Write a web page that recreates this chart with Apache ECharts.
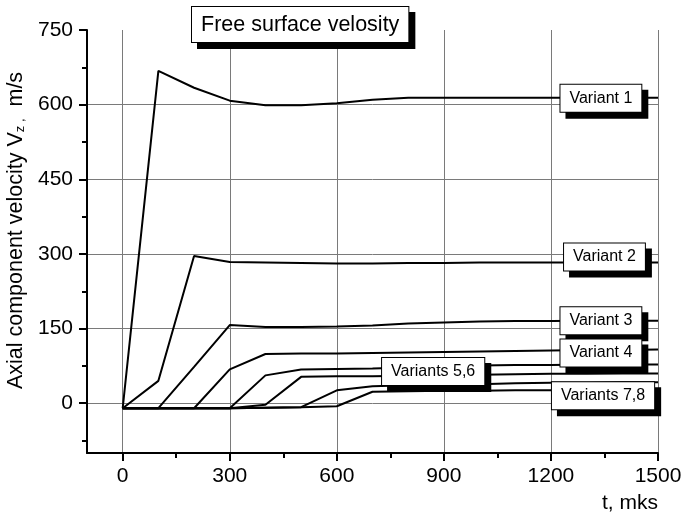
<!DOCTYPE html>
<html>
<head>
<meta charset="utf-8">
<script src="https://cdn.jsdelivr.net/npm/echarts@6/dist/echarts.min.js"></script>
<style>
  html, body { margin: 0; padding: 0; background: #fff; }
  #chart { width: 682px; height: 515px; }
</style>
</head>
<body>
<div id="chart"></div>
<script>
// time, mks
const times = [0, 100, 200, 300, 400, 500, 600, 700, 800, 900, 1000, 1100, 1200, 1300, 1400, 1500];
// axial velocity Vz, m/s
const variant1 = [-10, 668, 634, 608, 599, 599, 603, 610, 614, 614, 614, 614, 614, 614, 614, 614];
const variant2 = [-10, 45, 296, 284, 283, 282, 281, 281, 282, 282, 283, 283, 283, 283, 283, 283];
const variant3 = [-10, -10, 73, 157, 153, 153, 154, 156, 160, 162, 164, 165, 165, 166, 166, 166];
const variant4 = [-10, -10, -10, 68, 99, 100, 100, 101, 102, 103, 104, 105, 106, 107, 107, 108];
const variant5 = [-10, -10, -10, -10, 56, 68, 69, 70, 72, 74, 76, 77, 77, 78, 78, 78];
const variant6 = [-10, -10, -10, -10, -3, 53, 54, 54, 55, 56, 57, 58, 59, 59, 60, 60];
const variant7 = [-10, -10, -10, -10, -9, -8, 26, 34, 36, 37, 38, 40, 41, 41, 42, 42];
const variant8 = [-10, -10, -10, -10, -9, -8, -6, 23, 24, 25, 25, 26, 26, 26, 27, 27];
const xTicks = [0, 300, 600, 900, 1200, 1500];
const yTicks = [0, 150, 300, 450, 600, 750];
const labelNames = ['Variant 1', 'Variant 2', 'Variant 3', 'Variant 4', 'Variants 5,6', 'Variants 7,8'];

const FONT = '"Liberation Sans", Arial, sans-serif';
const allVariants = [variant1, variant2, variant3, variant4, variant5, variant6, variant7, variant8];

// where each tag box sits, in data units
const tagAt = { 0: [1340, 613], 1: [1350, 294], 2: [1340, 166], 3: [1340, 101], 4: [870, 64], 6: [1346, 15] };
const tagText = { 0: labelNames[0], 1: labelNames[1], 2: labelNames[2], 3: labelNames[3], 4: labelNames[4], 6: labelNames[5] };

const boxLabel = {
  show: true,
  position: 'inside',
  color: '#000',
  fontFamily: FONT,
  fontSize: 16,
  backgroundColor: '#fff',
  borderColor: '#000',
  borderWidth: 1,
  padding: [6, 9, 5, 9],
  shadowColor: '#000',
  shadowBlur: 0,
  shadowOffsetX: 6,
  shadowOffsetY: 6
};

const series = allVariants.map((vals, i) => {
  const s = {
    type: 'line',
    data: times.map((t, j) => [t, vals[j]]),
    symbol: 'none',
    lineStyle: { color: '#000', width: 2 },
    z: 3
  };
  if (tagAt[i]) {
    s.markPoint = {
      silent: true,
      symbol: 'rect',
      symbolSize: 0,
      z: 10,
      data: [{ coord: tagAt[i], label: Object.assign({}, boxLabel, { formatter: tagText[i] }) }]
    };
  }
  return s;
});

const plain = (v) => String(v);

const chart = echarts.init(document.getElementById('chart'));
chart.setOption({
  animation: false,
  backgroundColor: '#fff',
  title: {
    text: '{box|Free surface velosity}',
    left: 192,
    top: 7,
    padding: 0,
    textStyle: {
      fontWeight: 'normal',
      rich: {
        box: {
          fontFamily: FONT, fontSize: 21.5, fontWeight: 'normal', color: '#000',
          backgroundColor: '#fff',
          borderColor: '#000',
          borderWidth: 1,
          padding: [7, 9, 6, 9],
          shadowColor: '#000',
          shadowBlur: 0,
          shadowOffsetX: 6,
          shadowOffsetY: 6
        }
      }
    }
  },
  grid: { left: 87, right: 24, top: 30, bottom: 62, containLabel: false, outerBoundsMode: 'none' },
  xAxis: {
    type: 'value',
    min: -100,
    max: 1500,
    minInterval: 300,
    maxInterval: 300,
    name: 't, mks',
    nameLocation: 'end',
    nameGap: 0,
    nameTextStyle: { fontFamily: FONT, fontSize: 21, color: '#000', align: 'right', verticalAlign: 'top', padding: [40, 0, 0, 0] },
    axisLine: { onZero: false, lineStyle: { color: '#000', width: 2 } },
    axisTick: { customValues: xTicks, length: 8, lineStyle: { color: '#000', width: 2 } },
    minorTick: { show: true, splitNumber: 2, length: 5, lineStyle: { color: '#000', width: 2 } },
    axisLabel: { customValues: xTicks, formatter: plain, margin: 13, fontFamily: FONT, fontSize: 21, color: '#000' },
    splitLine: { show: true, lineStyle: { color: '#7a7a7a', width: 1 } }
  },
  yAxis: {
    type: 'value',
    min: -100,
    max: 750,
    minInterval: 150,
    maxInterval: 150,
    name: 'Axial component velocity V{sub|z}{sub| ,}  m/s',
    nameLocation: 'middle',
    nameGap: 52,
    nameTextStyle: {
      fontFamily: FONT, fontSize: 21.5, color: '#000', padding: [0, 0, 0, 22],
      rich: { sub: { fontFamily: FONT, fontSize: 13, color: '#000', verticalAlign: 'bottom', lineHeight: 13, padding: [14, 0, 0, 0] } }
    },
    axisLine: { onZero: false, lineStyle: { color: '#000', width: 2 } },
    axisTick: { customValues: yTicks, length: 8, lineStyle: { color: '#000', width: 2 } },
    minorTick: { show: true, splitNumber: 2, length: 5, lineStyle: { color: '#000', width: 2 } },
    axisLabel: { customValues: yTicks, formatter: plain, margin: 14, fontFamily: FONT, fontSize: 21, color: '#000' },
    splitLine: { show: true, showMaxLine: false, lineStyle: { color: '#7a7a7a', width: 1 } }
  },
  series: series
});
</script>
</body>
</html>
